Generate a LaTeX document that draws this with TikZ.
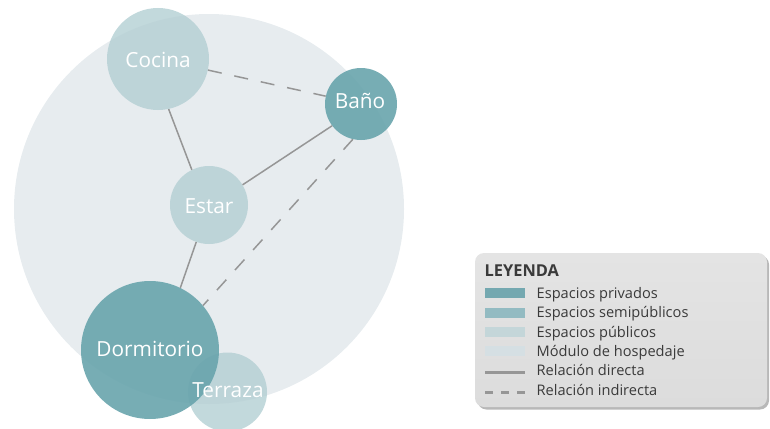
\documentclass[tikz,border=0pt]{standalone}
\usepackage{fontspec}
\setmainfont{Open Sans}
\definecolor{modulo}{HTML}{E7ECEF}
\definecolor{publico}{HTML}{B3CFD3}
\definecolor{privado}{HTML}{68A4AC}
\definecolor{relgray}{HTML}{969696}
\definecolor{legtext}{HTML}{3A3A3A}
\definecolor{swpriv}{HTML}{74A8B0}
\definecolor{swsemi}{HTML}{93BBC2}
\definecolor{swpub}{HTML}{C4D6D9}
\definecolor{swmod}{HTML}{D5DFE3}
\definecolor{legfillA}{HTML}{E4E4E4}
\definecolor{legfillB}{HTML}{DCDCDC}
\definecolor{legshadow}{HTML}{B8B8B8}
\begin{document}
\begin{tikzpicture}[x=1pt,y=-1pt,
  room/.style={circle,inner sep=0pt,minimum size=#1},
  pubroom/.style={room=#1,fill=publico,fill opacity=0.8},
  privroom/.style={room=#1,fill=privado,fill opacity=0.9},
  lbl/.style={text=white,inner sep=0pt,text height=14.9pt,text depth=0pt,font=\fontsize{20.8}{24}\selectfont},
  rel/.style={draw=relgray,line width=1.5pt},
  relind/.style={rel,dash pattern=on 14pt off 13pt},
  legitem/.style={anchor=base west,inner sep=0pt,text=legtext,font=\fontsize{14.6}{17}\selectfont},
  swatch/.style={inner sep=0pt,minimum width=40pt,minimum height=10pt,anchor=south west},
]
\useasboundingbox (0,0) rectangle (770,428);
% module
\node[room=390pt,fill=modulo] (modulo) at (209,209) {};
% rooms
\node[pubroom=102pt] (cocina) at (158,59) {};
\node[pubroom=78pt] (estar) at (209,205) {};
\node[privroom=72pt] (bano) at (361,104) {};
\node[pubroom=79pt] (terraza) at (227.5,392) {};
\node[privroom=138pt] (dorm) at (150,350) {};
% relations
\draw[rel] (cocina.-78) -- (estar.116);
\draw[rel] (estar.31) -- (bano.217);
\draw[rel] (estar.251) -- (dorm.64);
\draw[relind] (cocina) -- (bano);
\draw[relind] (bano.257) -- (dorm.40);
% labels
\node[lbl] (tcocina) at (158,60) {Cocina};
\node[lbl] (testar) at (209,206) {Estar};
\node[lbl] (tbano) at (360,101.5) {Baño};
\node[lbl] (tdorm) at (150,349.5) {Dormitorio};
\node[lbl] (tterraza) at (228,390) {Terraza};
% legend
\fill[legshadow,rounded corners=9pt] (477.5,255.5) rectangle (769,409.5);
\shade[top color=legfillA,bottom color=legfillB,rounded corners=9pt] (475,253) rectangle (767,407);
\node[anchor=base west,inner sep=0pt,text=legtext,font=\bfseries\fontsize{16.4}{19}\selectfont] (leyenda) at (484.5,276) {LEYENDA};
\node[swatch,fill=swpriv] (s1) at (485,298.3) {};
\node[swatch,fill=swsemi] (s2) at (485,317.7) {};
\node[swatch,fill=swpub] (s3) at (485,337.1) {};
\node[swatch,fill=swmod] (s4) at (485,356.5) {};
\coordinate (l5a) at (485,372.9);
\coordinate (l5b) at (525,372.9);
\coordinate (l6a) at (485,392.3);
\coordinate (l6b) at (525,392.3);
\draw[draw=relgray,line width=3pt] (l5a) -- (l5b);
\draw[draw=relgray,line width=3pt,dash pattern=on 8pt off 8pt] (l6a) -- (l6b);
\node[legitem] (e1) at (536.5,298.3) {Espacios privados};
\node[legitem] (e2) at (536.5,317.7) {Espacios semipúblicos};
\node[legitem] (e3) at (536.5,337.1) {Espacios públicos};
\node[legitem] (e4) at (536.5,356.5) {Módulo de hospedaje};
\node[legitem] (e5) at (536.5,375.9) {Relación directa};
\node[legitem] (e6) at (536.5,395.3) {Relación indirecta};
\end{tikzpicture}
\end{document}
